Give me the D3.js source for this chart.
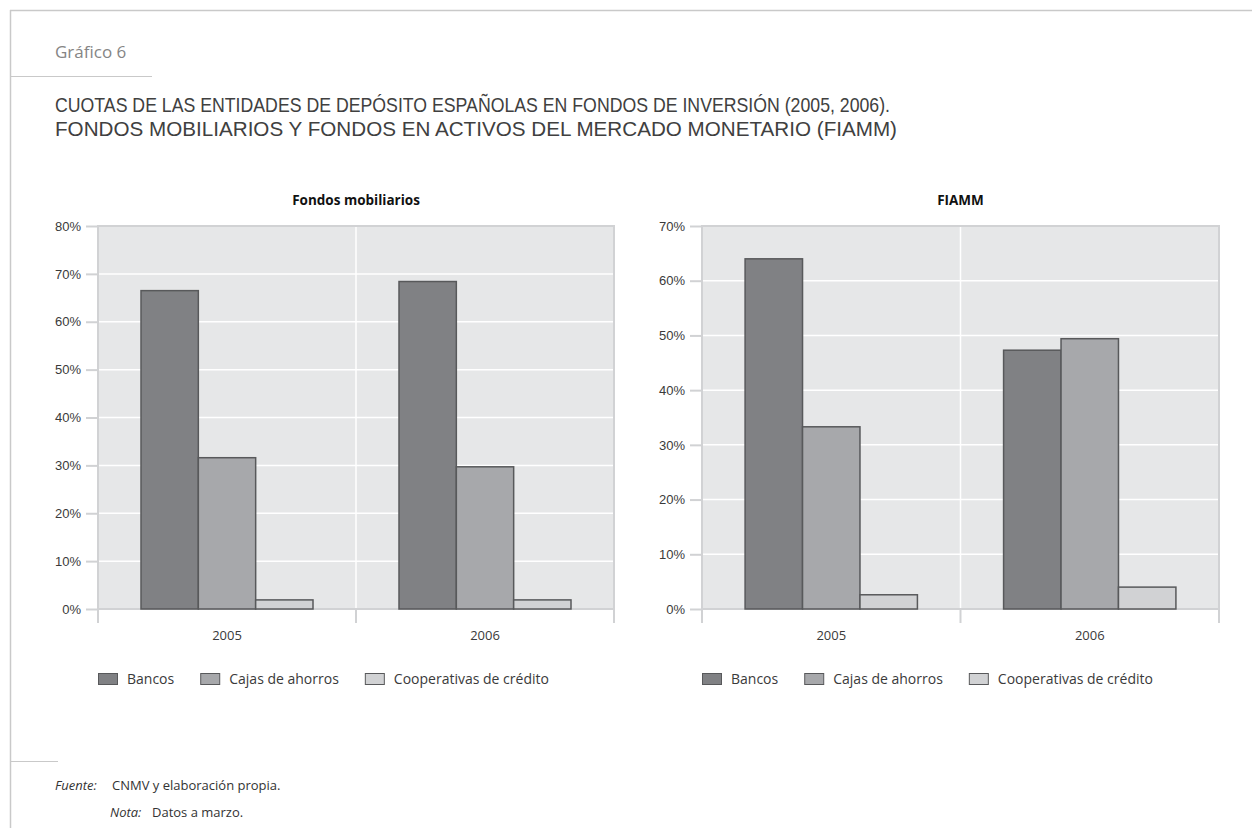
<!DOCTYPE html>
<html>
<head>
<meta charset="utf-8">
<script src="https://cdnjs.cloudflare.com/ajax/libs/d3/7.8.5/d3.min.js"></script>
<style>
    body { margin: 0; background: #fff; }
    svg { display: block; font-family: "Open Sans", "Noto Sans", sans-serif; }
    .tick-label { font-size: 13px; fill: #3a3a3a; }
    .chart-label { font-size: 13.5px; font-weight: bold; fill: #111; }
    .legend-label { font-size: 14px; fill: #3a3a3a; }
    .main-title { font-family: "Liberation Sans", Arial, sans-serif; font-size: 21px; fill: #404040; }
</style>
</head>
<body>
<div id="chart-area"></div>
<script>
/*
*    Grouped bar charts: cuotas de las entidades de depósito
*/

var years = ["2005", "2006"];
var groups = ["Bancos", "Cajas de ahorros", "Cooperativas de crédito"];

// Fondos mobiliarios (%), one value per year
var mobBancos = [66.5, 68.4];
var mobCajas = [31.6, 29.7];
var mobCoop = [1.9, 1.9];

// FIAMM (%)
var fiammBancos = [64.0, 47.3];
var fiammCajas = [33.3, 49.4];
var fiammCoop = [2.6, 4.0];

var mobTicks = [0, 10, 20, 30, 40, 50, 60, 70, 80];
var fiammTicks = [0, 10, 20, 30, 40, 50, 60, 70];

var colors = ["#808184", "#a7a8ab", "#d1d2d4"];

var svg = d3.select("#chart-area")
    .append("svg")
        .attr("width", 1252)
        .attr("height", 828);

// page frame
var frame = "#c9c9c9";
svg.append("line").attr("x1", 10).attr("x2", 1252).attr("y1", 10.5).attr("y2", 10.5)
    .attr("stroke", frame).attr("stroke-width", 1.5);
svg.append("line").attr("x1", 10.5).attr("x2", 10.5).attr("y1", 10).attr("y2", 828)
    .attr("stroke", frame).attr("stroke-width", 1.5);
svg.append("line").attr("x1", 10).attr("x2", 152).attr("y1", 76.5).attr("y2", 76.5)
    .attr("stroke", frame).attr("stroke-width", 1.2);
svg.append("line").attr("x1", 10).attr("x2", 58).attr("y1", 761.5).attr("y2", 761.5)
    .attr("stroke", frame).attr("stroke-width", 1.2);

svg.append("text")
    .attr("x", 55).attr("y", 58)
    .attr("font-size", "17px")
    .attr("fill", "#858585")
    .text("Gráfico 6");

// two-line title
svg.append("text")
    .attr("class", "main-title")
    .attr("x", 55).attr("y", 112)
    .attr("textLength", 835)
    .attr("lengthAdjust", "spacingAndGlyphs")
    .text("CUOTAS DE LAS ENTIDADES DE DEPÓSITO ESPAÑOLAS EN FONDOS DE INVERSIÓN (2005, 2006).");
svg.append("text")
    .attr("class", "main-title")
    .attr("x", 55).attr("y", 136)
    .attr("textLength", 842)
    .attr("lengthAdjust", "spacingAndGlyphs")
    .text("FONDOS MOBILIARIOS Y FONDOS EN ACTIVOS DEL MERCADO MONETARIO (FIAMM)");

// footer
var foot = svg.append("g").attr("font-size", "13px").attr("fill", "#333");
foot.append("text").attr("x", 55).attr("y", 790).attr("font-style", "italic").text("Fuente:");
foot.append("text").attr("x", 112).attr("y", 790).text("CNMV y elaboración propia.");
foot.append("text").attr("x", 110).attr("y", 817).attr("font-style", "italic").text("Nota:");
foot.append("text").attr("x", 152).attr("y", 817).text("Datos a marzo.");


GroupedBarChart = function(_left, _right, _title, _series, _ticks){
    this.left = _left;
    this.right = _right;
    this.title = _title;
    this.series = _series;
    this.ticks = _ticks;

    this.initVis();
};

GroupedBarChart.prototype.initVis = function(){
    var vis = this;

    vis.top = 226;
    vis.bottom = 609;
    vis.g = svg.append("g");

    vis.x = d3.scaleBand()
        .domain(years)
        .range([vis.left, vis.right]);

    vis.x1 = d3.scaleBand()
        .domain(groups)
        .range([vis.x.bandwidth() / 6, vis.x.bandwidth() * 5 / 6]);

    vis.y = d3.scaleLinear()
        .domain([0, d3.max(vis.ticks)])
        .range([vis.bottom, vis.top]);

    // background
    vis.g.append("rect")
        .attr("x", vis.left)
        .attr("y", vis.top)
        .attr("width", vis.right - vis.left)
        .attr("height", vis.bottom - vis.top)
        .attr("fill", "#e6e7e8");

    // horizontal grid
    vis.g.selectAll(".grid")
        .data(vis.ticks.slice(1, -1))
      .enter().append("line")
        .attr("class", "grid")
        .attr("x1", vis.left).attr("x2", vis.right)
        .attr("y1", function(d){ return vis.y(d); })
        .attr("y2", function(d){ return vis.y(d); })
        .attr("stroke", "#fff")
        .attr("stroke-width", 1.5);

    // vertical divider between years
    vis.g.append("line")
        .attr("x1", vis.x(years[1])).attr("x2", vis.x(years[1]))
        .attr("y1", vis.top).attr("y2", vis.bottom)
        .attr("stroke", "#fff")
        .attr("stroke-width", 1.5);

    // plot border (top, left, right) in light grey
    vis.g.append("path")
        .attr("d", "M" + vis.left + "," + vis.bottom + "V" + vis.top + "H" + vis.right + "V" + vis.bottom)
        .attr("fill", "none")
        .attr("stroke", "#d1d2d4")
        .attr("stroke-width", 2);

    // y axis
    var yAxis = d3.axisLeft(vis.y)
        .tickValues(vis.ticks)
        .tickSize(12)
        .tickPadding(5)
        .tickFormat(function(d){ return d + "%"; });

    vis.g.append("g")
        .attr("transform", "translate(" + vis.left + ",0)")
        .call(yAxis)
        .call(function(g){
            g.select(".domain").remove();
            g.selectAll(".tick line").attr("stroke", "#d1d2d4").attr("stroke-width", 2);
            g.selectAll(".tick text").attr("class", "tick-label").attr("font-family", null).attr("font-size", null).attr("fill", null);
        });

    // x axis
    vis.g.append("line")
        .attr("x1", vis.left).attr("x2", vis.right)
        .attr("y1", vis.bottom).attr("y2", vis.bottom)
        .attr("stroke", "#d1d2d4")
        .attr("stroke-width", 2);

    vis.g.selectAll(".xtick")
        .data(years.concat(["end"]))
      .enter().append("line")
        .attr("class", "xtick")
        .attr("x1", function(d, i){ return i < years.length ? vis.x(d) : vis.right; })
        .attr("x2", function(d, i){ return i < years.length ? vis.x(d) : vis.right; })
        .attr("y1", vis.bottom).attr("y2", vis.bottom + 14)
        .attr("stroke", "#d1d2d4")
        .attr("stroke-width", 2);

    vis.g.selectAll(".xlabel")
        .data(years)
      .enter().append("text")
        .attr("class", "tick-label")
        .attr("x", function(d){ return vis.x(d) + vis.x.bandwidth() / 2; })
        .attr("y", vis.bottom + 31)
        .attr("text-anchor", "middle")
        .text(function(d){ return d; });

    // bars
    var rows = [];
    years.forEach(function(yr, i){
        groups.forEach(function(gr, j){
            rows.push({ year: yr, group: gr, value: vis.series[j][i], idx: j });
        });
    });

    vis.g.selectAll(".bar")
        .data(rows)
      .enter().append("rect")
        .attr("class", "bar")
        .attr("x", function(d){ return vis.x(d.year) + vis.x1(d.group); })
        .attr("width", vis.x1.bandwidth())
        .attr("y", function(d){ return vis.y(d.value); })
        .attr("height", function(d){ return vis.y(0) - vis.y(d.value); })
        .attr("fill", function(d){ return colors[d.idx]; })
        .attr("stroke", "#58595b")
        .attr("stroke-width", 1.5);

    // title
    vis.g.append("text")
        .attr("class", "chart-label")
        .attr("x", (vis.left + vis.right) / 2)
        .attr("y", 205)
        .attr("text-anchor", "middle")
        .text(vis.title);

    // legend
    var lx = vis.left;
    groups.forEach(function(gr, j){
        vis.g.append("rect")
            .attr("x", lx + 0.5).attr("y", 673.5)
            .attr("width", 19).attr("height", 11)
            .attr("fill", colors[j])
            .attr("stroke", "#58595b")
            .attr("stroke-width", 1);
        var t = vis.g.append("text")
            .attr("class", "legend-label")
            .attr("x", lx + 29)
            .attr("y", 684)
            .text(gr);
        lx = lx + 29 + t.node().getComputedTextLength() + 26;
    });
};

var chart1 = new GroupedBarChart(98, 614, "Fondos mobiliarios", [mobBancos, mobCajas, mobCoop], mobTicks);
var chart2 = new GroupedBarChart(702, 1219, "FIAMM", [fiammBancos, fiammCajas, fiammCoop], fiammTicks);
</script>
</body>
</html>
